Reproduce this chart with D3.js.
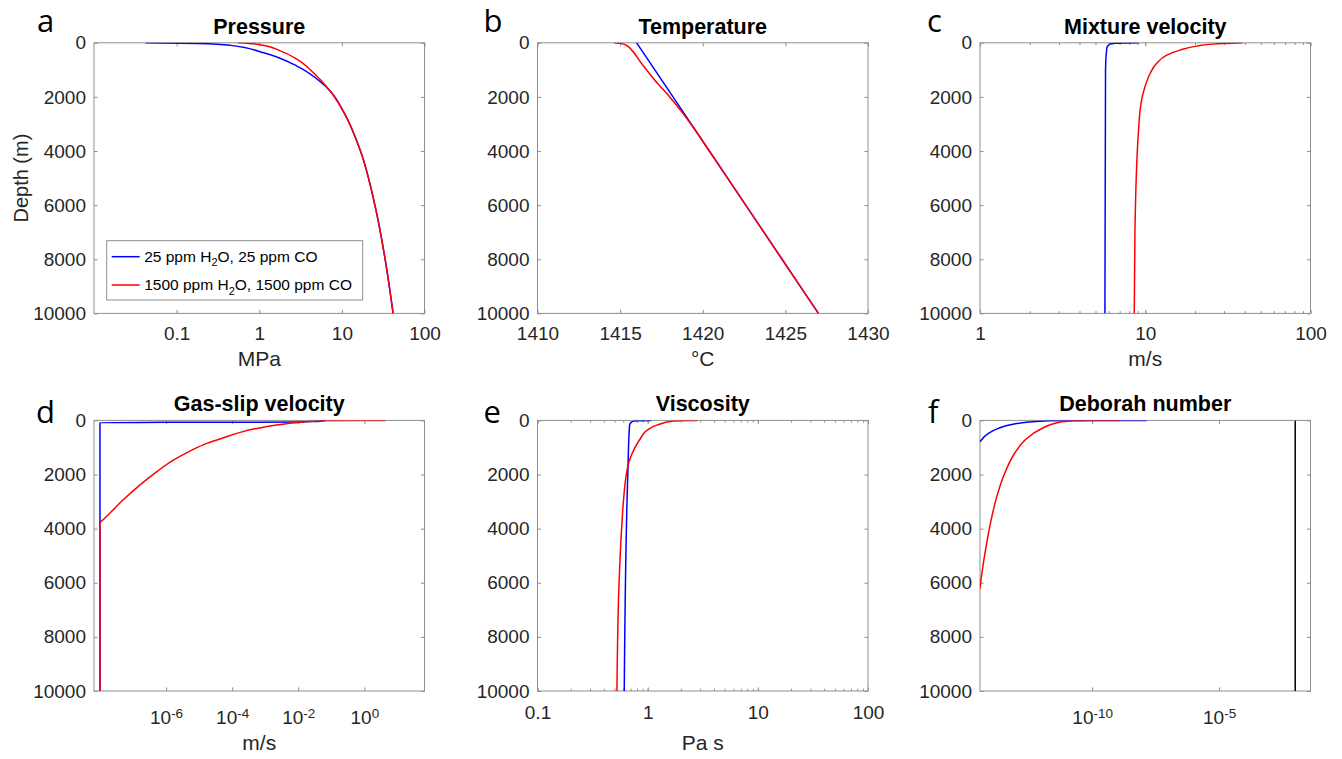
<!DOCTYPE html>
<html>
<head>
<meta charset="utf-8">
<script src="https://cdn.jsdelivr.net/npm/d3@7"></script>
<style>
  body { margin: 0; background: #fff; }
  text { font-family: "Liberation Sans", Arial, Helvetica, sans-serif; fill: #262626; }
</style>
</head>
<body>
<div id="chart"></div>
<script>
// depth (m) ticks shared by all panels
const depthTicks = [0, 2000, 4000, 6000, 8000, 10000];

// a - pressure (MPa)
const presDepthLow = [0, 25, 95, 370, 860, 1540, 1800, 2600, 4000, 6000, 8000, 10000];
const presLow = [0.042, 0.18, 0.45, 1.13, 2.86, 6.0, 7.3, 10.7, 16.8, 25.1, 33.4, 41.7];
const presDepthHigh = [0, 60, 300, 600, 1100, 1800, 2600, 4000, 6000, 8000, 10000];
const presHigh = [0.55, 1.0, 1.8, 2.85, 4.5, 7.3, 10.7, 16.8, 25.1, 33.4, 41.7];

// b - temperature (°C)
const tempDepthLow = [0, 2000, 4000, 6000, 8000, 10000];
const tempLow = [1416.0, 1418.2, 1420.4, 1422.6, 1424.8, 1427.0];
const tempDepthHigh = [0, 25, 100, 270, 700, 1380, 2000, 2500, 3000, 4000, 6000, 8000, 10000];
const tempHigh = [1414.63, 1415.08, 1415.39, 1415.7, 1416.22, 1417.1, 1418.0, 1418.67, 1419.28, 1420.4, 1422.6, 1424.8, 1427.0];

// c - mixture velocity (m/s)
const velDepthLow = [0, 5, 15, 50, 200, 1000, 10000];
const velLow = [9.1, 7.5, 6.6, 6.1, 5.85, 5.75, 5.7];
const velDepthHigh = [0, 49, 123, 271, 456, 764, 1134, 1627, 2120, 3350, 4580, 7050, 10000];
const velHigh = [38.8, 25.8, 20.5, 16.2, 13.5, 11.7, 10.7, 9.96, 9.5, 9.08, 8.87, 8.66, 8.58];

// d - gas-slip velocity (m/s)
const slipDepthLow = [0, 40, 60, 68, 72, 75, 10000];
const slipLow = [0.066, 0.03, 0.01, 1e-4, 1e-6, 1e-8, 1e-8];
const slipDepthHigh = [0, 5, 15, 75, 174, 296, 443, 643, 850, 1134, 1466, 1873, 2390, 2981, 3376, 3650, 3790, 10000];
const slipHigh = [4.4, 0.6, 0.059, 0.0102, 2.2e-3, 5.6e-4, 1.75e-4, 5.5e-5, 1.7e-5, 5.3e-6, 1.66e-6, 5.5e-7, 1.6e-7, 4.6e-8, 2.2e-8, 1.3e-8, 1e-8, 1e-8];

// e - viscosity (Pa s)
const viscDepthLow = [0, 10, 26, 100, 174, 2000, 10000];
const viscLow = [1.08, 0.80, 0.745, 0.70, 0.685, 0.66, 0.613];
const viscDepthHigh = [0, 10, 26, 175, 360, 670, 1035, 1500, 2000, 2900, 4000, 6000, 10000];
const viscHigh = [2.84, 2.0, 1.72, 1.21, 0.99, 0.86, 0.76, 0.68, 0.64, 0.605, 0.58, 0.55, 0.526];

// f - Deborah number
const debDepthLow = [0, 3, 15, 63, 148, 296, 480, 790];
const debLow = [1.4e-8, 5e-11, 2e-12, 3.2e-13, 6.8e-14, 2.0e-14, 8.1e-15, 3.8e-15];
const debDepthHigh = [0, 5, 15, 75, 307, 739, 1231, 1970, 2772, 3758, 4741, 5728, 6220];
const debHigh = [1.3e-9, 1e-10, 2.1e-11, 4.6e-12, 1.0e-12, 2.2e-13, 8.6e-14, 3.5e-14, 1.8e-14, 1.0e-14, 6.4e-15, 4.4e-15, 3.8e-15];
const deborahCritical = 0.01;

const W = 1342, H = 759;
const pw = 330.5, ph = 270.6;
const colX = [94, 537.5, 980], rowY = [42.8, 420.4];
const BLUE = "#0000ff", RED = "#ff0000", AXIS = "#8f8f8f";
const TICK_FONT = "19px";

const svg = d3.select("#chart").append("svg").attr("width", W).attr("height", H);

const panels = [
  { id: "a", title: "Pressure", unit: "MPa", col: 0, row: 0, letterX: -57,
    scale: d3.scaleLog().domain([0.01, 100]), ticks: [0.1, 1, 10, 100], minor: false,
    series: [[presDepthLow, presLow, BLUE], [presDepthHigh, presHigh, RED]] },
  { id: "b", title: "Temperature", unit: "\u00B0C", col: 1, row: 0, letterX: -54,
    scale: d3.scaleLinear().domain([1410, 1430]), ticks: [1410, 1415, 1420, 1425, 1430], minor: false,
    series: [[tempDepthLow, tempLow, BLUE], [tempDepthHigh, tempHigh, RED]] },
  { id: "c", title: "Mixture velocity", unit: "m/s", col: 2, row: 0, letterX: -53,
    scale: d3.scaleLog().domain([1, 100]), ticks: [1, 10, 100], minor: true,
    series: [[velDepthLow, velLow, BLUE], [velDepthHigh, velHigh, RED]] },
  { id: "d", title: "Gas-slip velocity", unit: "m/s", col: 0, row: 1, letterX: -58, pow: true,
    scale: d3.scaleLog().domain([6.6e-9, 66]), ticks: [1e-6, 1e-4, 1e-2, 1], minor: false,
    series: [[slipDepthLow, slipLow, BLUE], [slipDepthHigh, slipHigh, RED]] },
  { id: "e", title: "Viscosity", unit: "Pa s", col: 1, row: 1, letterX: -54,
    scale: d3.scaleLog().domain([0.1, 100]), ticks: [0.1, 1, 10, 100], minor: true,
    series: [[viscDepthLow, viscLow, BLUE], [viscDepthHigh, viscHigh, RED]] },
  { id: "f", title: "Deborah number", unit: "", col: 2, row: 1, letterX: -52, pow: true,
    scale: d3.scaleLog().domain([3.8e-15, 0.04]), ticks: [1e-10, 1e-5], minor: false,
    series: [[debDepthLow, debLow, BLUE], [debDepthHigh, debHigh, RED]], vline: deborahCritical }
];

function cleanAxis(sel) {
  sel.select(".domain").remove();
  sel.selectAll(".tick line").attr("stroke", AXIS);
  sel.attr("font-family", null).style("font-size", TICK_FONT);
  return sel;
}

panels.forEach(p => {
  const g = svg.append("g").attr("transform", `translate(${colX[p.col]},${rowY[p.row]})`);
  const x = p.scale.range([0, pw]);
  const y = d3.scaleLinear().domain([0, 10000]).range([0, ph]);

  g.append("clipPath").attr("id", "clip-" + p.id)
    .append("rect").attr("width", pw).attr("height", ph);

  g.append("rect").attr("width", pw).attr("height", ph)
    .attr("fill", "#fff").attr("stroke", AXIS).attr("stroke-width", 1);

  // minor ticks on the log axes that have them
  if (p.minor) {
    const mt = x.ticks();
    cleanAxis(g.append("g").attr("transform", `translate(0,${ph})`)
      .call(d3.axisBottom(x).tickValues(mt).tickSize(-2.3).tickSizeOuter(0).tickFormat("")));
    cleanAxis(g.append("g")
      .call(d3.axisTop(x).tickValues(mt).tickSize(-2.3).tickSizeOuter(0).tickFormat("")));
  }

  const xb = cleanAxis(g.append("g").attr("transform", `translate(0,${ph})`)
    .call(d3.axisBottom(x).tickValues(p.ticks).tickSize(-3.6).tickSizeOuter(0)
      .tickPadding(p.pow ? 20 : (p.row === 0 ? 13.5 : 15))
      .tickFormat(p.pow ? () => "" : d => String(d))));
  if (p.pow) {
    xb.selectAll(".tick text").each(function(d) {
      const t = d3.select(this);
      t.append("tspan").text("10");
      t.append("tspan").attr("dy", "-0.5em").style("font-size", "13.5px")
        .text(String(Math.round(Math.log10(d))));
    });
  }
  cleanAxis(g.append("g")
    .call(d3.axisTop(x).tickValues(p.ticks).tickSize(-3.6).tickSizeOuter(0).tickFormat("")));

  cleanAxis(g.append("g")
    .call(d3.axisLeft(y).tickValues(depthTicks).tickSize(-3.6).tickSizeOuter(0).tickPadding(8)
      .tickFormat(d3.format("d"))));
  cleanAxis(g.append("g").attr("transform", `translate(${pw},0)`)
    .call(d3.axisRight(y).tickValues(depthTicks).tickSize(-3.6).tickSizeOuter(0).tickFormat("")));

  const line = d3.line()
    .x(d => x(d[1]))
    .y(d => y(d[0]))
    .curve(d3.curveMonotoneY);

  const plot = g.append("g").attr("clip-path", `url(#clip-${p.id})`);
  p.series.forEach(([dep, val, col]) => {
    plot.append("path")
      .datum(d3.zip(dep, val))
      .attr("fill", "none")
      .attr("stroke", col)
      .attr("stroke-width", 1.5)
      .attr("d", line);
  });

  if (p.vline !== undefined) {
    plot.append("line")
      .attr("x1", x(p.vline)).attr("x2", x(p.vline))
      .attr("y1", 0).attr("y2", ph)
      .attr("stroke", "#000").attr("stroke-width", 1.5);
  }

  // title
  g.append("text")
    .attr("x", pw / 2).attr("y", p.row === 0 ? -8.5 : -9.5)
    .attr("text-anchor", "middle")
    .style("font-size", "21.5px").style("font-weight", "bold").style("fill", "#000")
    .text(p.title);

  // unit label
  if (p.unit) {
    g.append("text")
      .attr("x", pw / 2).attr("y", ph + (p.row === 0 ? 53 : 59))
      .attr("text-anchor", "middle")
      .style("font-size", "21px")
      .text(p.unit);
  }

  // panel letter
  g.append("text")
    .attr("x", p.letterX).attr("y", p.row === 0 ? -10.5 : 2.8)
    .style("font-family", "'Open Sans', 'DejaVu Sans', sans-serif")
    .style("font-size", "31px").style("fill", "#000")
    .text(p.id);

  if (p.id === "a") {
    g.append("text")
      .attr("transform", `translate(-66,${ph / 2}) rotate(-90)`)
      .attr("text-anchor", "middle")
      .style("font-size", "20px")
      .text("Depth (m)");

    // legend
    const lg = g.append("g").attr("transform", "translate(12.7,197.9)");
    lg.append("rect").attr("width", 256).attr("height", 59.3)
      .attr("fill", "#fff").attr("stroke", AXIS);
    const rows = [[BLUE, "25 ppm H", "O, 25 ppm CO"], [RED, "1500 ppm H", "O, 1500 ppm CO"]];
    rows.forEach(([col, a, b], i) => {
      const yy = 16 + i * 28.3;
      lg.append("line").attr("x1", 5).attr("x2", 33).attr("y1", yy).attr("y2", yy)
        .attr("stroke", col).attr("stroke-width", 1.5);
      const t = lg.append("text").attr("x", 37.5).attr("y", yy + 5.2)
        .style("font-size", "15.5px").style("fill", "#000");
      t.append("tspan").text(a);
      t.append("tspan").attr("dy", 4.5).style("font-size", "11px").text("2");
      t.append("tspan").attr("dy", -4.5).text(b);
    });
  }
});
</script>
</body>
</html>
